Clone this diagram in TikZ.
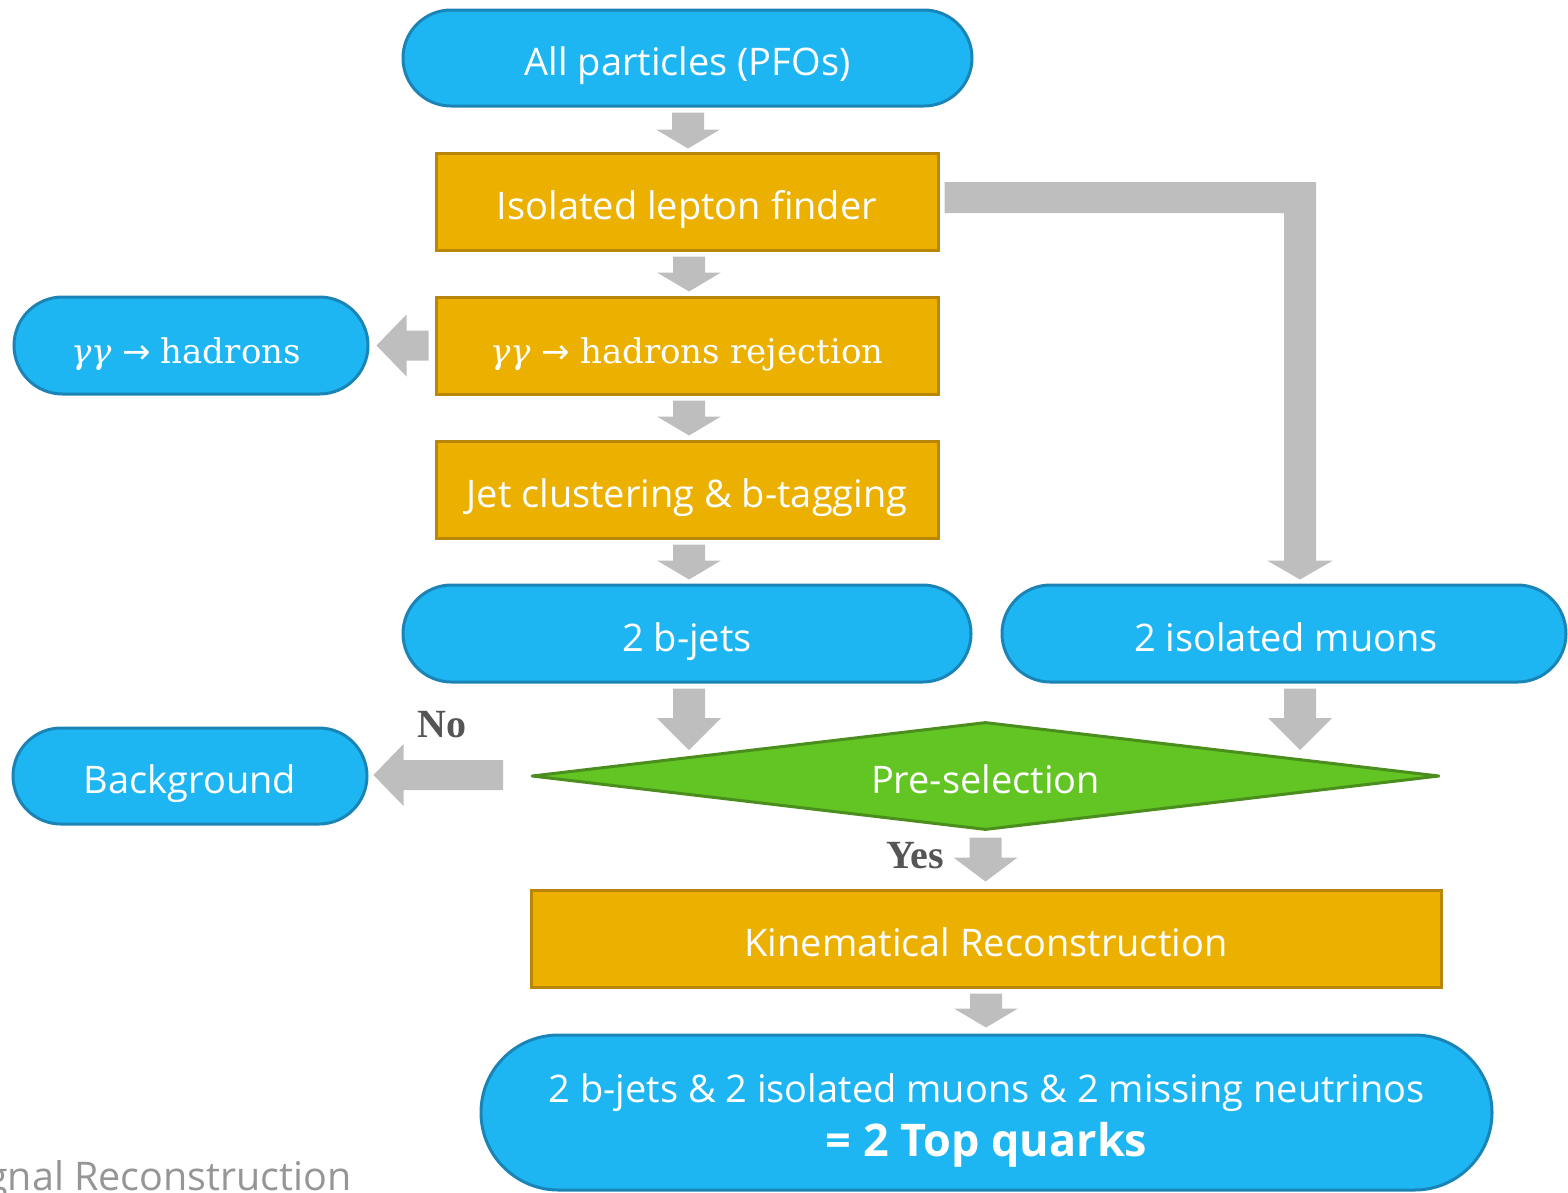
\documentclass[tikz,border=0pt]{standalone}
\usepackage{fontspec}
\newfontfamily\ui{Open Sans}
\newfontfamily\tnr{Liberation Serif}
\newfontfamily\dserif{DejaVu Serif}
\newfontfamily\dsans{DejaVu Sans}
\usetikzlibrary{shapes.misc,shapes.geometric,calc}
\definecolor{pblue}{RGB}{30,182,242}
\definecolor{pblueb}{RGB}{26,132,182}
\definecolor{porange}{RGB}{236,177,0}
\definecolor{porangeb}{RGB}{186,134,10}
\definecolor{pgreen}{RGB}{99,197,35}
\definecolor{pgreenb}{RGB}{74,143,29}
\definecolor{agray}{RGB}{190,190,190}
\definecolor{lblgray}{RGB}{85,85,85}
\definecolor{capgray}{RGB}{150,150,150}
\newcommand\gghad{{\dserif\itshape γγ} {\dsans →} {\dserif hadrons}}
\tikzset{
  base/.style={line width=3pt, text=white, font=\ui\fontsize{38}{54}\selectfont, inner sep=0pt,
    text height=35pt, text depth=0pt},
  pill/.style={base, rounded rectangle, fill=pblue, draw=pblueb},
  procbox/.style={base, rectangle, fill=porange, draw=porangeb, minimum width=502pt, minimum height=97pt},
  decision/.style={base, diamond, aspect=8.44, fill=pgreen, draw=pgreenb, line join=round},
  serifsz/.style={font=\fontsize{34}{40}\selectfont},
  yesno/.style={font=\tnr\bfseries\fontsize{40}{44}\selectfont, text=lblgray, inner sep=0pt},
}
\newcommand\darrow[3]{%
  \fill[agray] let \p1=(#2), \p2=(#3) in
    (\x1-16pt,\y1) -- (\x1+16pt,\y1) -- (\x1+16pt,\y2+#1pt) -- (\x1+32pt,\y2+#1pt)
    -- (\x1,\y2) -- (\x1-32pt,\y2+#1pt) -- (\x1-16pt,\y2+#1pt) -- cycle;}
\newcommand\larrow[2]{%
  \fill[agray] let \p1=(#1), \p2=(#2) in
    (\x1,\y1+15pt) -- (\x2+30pt,\y1+15pt) -- (\x2+30pt,\y1+31pt) -- (\x2,\y1)
    -- (\x2+30pt,\y1-31pt) -- (\x2+30pt,\y1-15pt) -- (\x1,\y1-15pt) -- cycle;}
\begin{document}
\begin{tikzpicture}[x=1pt,y=-1pt]
\useasboundingbox (0,0) rectangle (1568,1192);
\clip (0,0) rectangle (1568,1192);

% nodes
\node[pill, minimum width=569pt, minimum height=96pt] (all) at (687.5,58) {All particles (PFOs)};
\node[procbox] (iso) at (687,201.5) {Isolated lepton finder};
\node[procbox, serifsz] (rej) at (687,345.5) {\gghad{} {\dserif rejection}};
\node[procbox] (jet) at (687,489.5) {Jet clustering \& b-tagging};
\node[pill, minimum width=568pt, minimum height=97pt] (bjets) at (687,633.5) {2 b-jets};
\node[pill, minimum width=564pt, minimum height=97pt] (muons) at (1284,633.5) {\hspace*{4pt}2 isolated muons};
\node[pill, serifsz, minimum width=354pt, minimum height=97pt] (gg) at (191,345.5) {\hspace*{-10pt}\gghad};
\node[pill, minimum width=354pt, minimum height=96pt] (bkg) at (190,776) {Background};
\node[decision, minimum width=908pt, minimum height=108pt] (pre) at (985.5,776) {Pre-selection};
\node[procbox, minimum width=910pt] (kin) at (986,938.5) {Kinematical Reconstruction};
\node[pill, minimum width=1011pt, minimum height=155pt, align=center, text height=87pt] (final) at (986.5,1112.5)
  {2 b-jets \& 2 isolated muons \& 2 missing neutrinos\\[0pt]{\fontsize{45}{54}\selectfont\bfseries = 2 Top quarks}};

\node[yesno] (no) at (442,725) {No};
\node[yesno] (yes) at (915,856) {Yes};
\node[font=\ui\fontsize{39.5}{42}\selectfont, text=capgray, anchor=base east, inner sep=0pt] (cap) at (352,1190) {Signal Reconstruction};

% column coordinate for right side arrows
\coordinate (mcol) at (1300,0);

% block arrows
\darrow{19}{$(all.south)+(0.5,5)$}{$(iso.north)+(0,-3)$}
\darrow{19}{$(iso.south)+(2,5)$}{$(rej.north)+(0,-4)$}
\darrow{19}{$(rej.south)+(2,5)$}{$(jet.north)+(0,-4)$}
\darrow{19}{$(jet.south)+(2,5)$}{$(bjets.north)+(0,-4)$}
\darrow{32}{$(bjets.south)+(2,5)$}{$(pre.west -| bjets.south)+(0,-26)$}
\darrow{32}{$(mcol |- muons.south)+(0,5)$}{$(mcol |- pre.west)+(0,-26)$}
\darrow{24}{$(pre.south)+(0,6)$}{$(kin.north)+(0,-7)$}
\darrow{19}{$(kin.south)+(0,5)$}{$(final.north)+(0,-6)$}
\larrow{$(rej.west)+(-6,0)$}{$(gg.east)+(7,0)$}
\larrow{$(pre.west)+(-27,-1)$}{$(bkg.east)+(5,-1)$}

% L-shaped arrow from isolated lepton finder to muons
\fill[agray] let \p1=($(iso.east)+(5,-4)$), \p2=($(mcol |- muons.north)+(0,-4)$) in
  (\x1,\y1+15.5pt) -- (\x2+16pt,\y1+15.5pt) -- (\x2+16pt,\y2+19pt) -- (\x2+33pt,\y2+19pt)
  -- (\x2,\y2) -- (\x2-33pt,\y2+19pt) -- (\x2-16pt,\y2+19pt) -- (\x2-16pt,\y1-15.5pt)
  -- (\x1,\y1-15.5pt) -- cycle;
\end{tikzpicture}
\end{document}
